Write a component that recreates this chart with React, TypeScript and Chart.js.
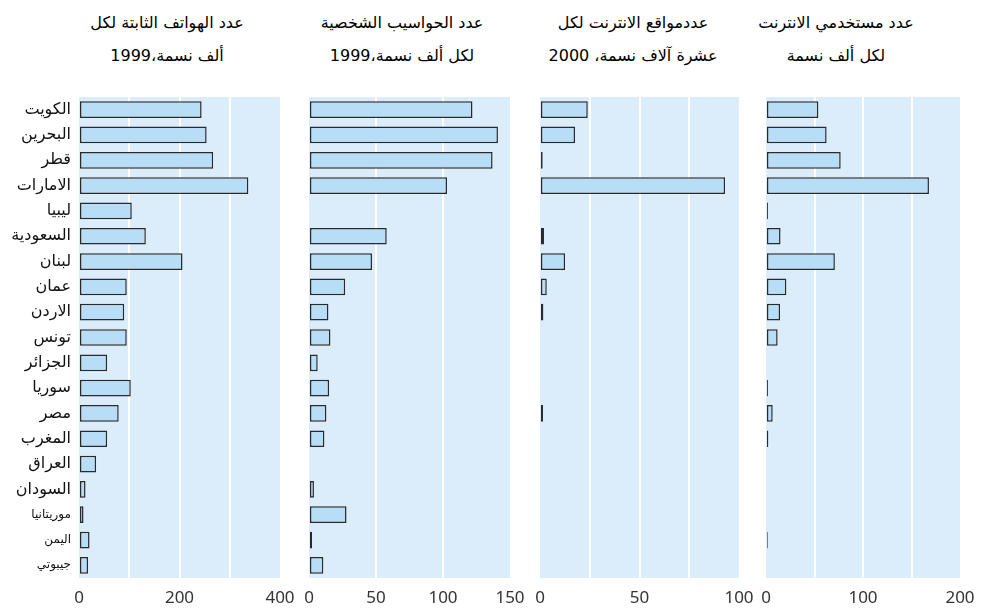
import React, { useEffect, useRef } from 'react';
import { Chart, registerables } from 'chart.js';
Chart.register(...registerables);

const countries = ['الكويت', 'البحرين', 'قطر', 'الامارات', 'ليبيا', 'السعودية', 'لبنان', 'عمان', 'الاردن', 'تونس', 'الجزائر', 'سوريا', 'مصر', 'المغرب', 'العراق', 'السودان', 'موريتانيا', 'اليمن', 'جيبوتي'];

const phones = [244, 254, 267, 337, 105, 133, 206, 95, 90, 95, 56, 103, 79, 56, 34, 13, 9, 21, 18];
const pcs = [122, 141, 137, 103, null, 58, 47, 27, 14.5, 16, 6.5, 15, 13, 11.5, null, 3.7, 28, 2.3, 10.7];
const hosts = [24, 17.6, 1.35, 93, null, 2, 12.6, 3.4, 1.7, null, null, null, 1.5, null, null, null, null, null, null];
const users = [54, 62.5, 77, 168, 2, 15, 71, 21, 14.5, 12, null, 2, 6.9, 2.4, null, null, null, 1.8, null];

const titles = [
  ['عدد الهواتف الثابتة لكل', 'ألف نسمة،1999'],
  ['عدد الحواسيب الشخصية', 'لكل ألف نسمة،1999'],
  ['عددمواقع الانترنت لكل', 'عشرة آلاف نسمة، 2000'],
  ['عدد مستخدمي الانترنت', 'لكل ألف نسمة'],
];

const BG = '#dbedfb';
const BAR = '#b8ddf6';
const EDGE = '#2a2a2a';

const bgPlugin = {
  id: 'panelBg',
  beforeDraw(chart: any) {
    const { ctx, chartArea } = chart;
    ctx.save();
    ctx.fillStyle = BG;
    ctx.fillRect(chartArea.left, chartArea.top, chartArea.right - chartArea.left, chartArea.bottom - chartArea.top);
    ctx.restore();
  },
};

type PanelProps = {
  values: (number | null)[];
  max: number;
  step: number;
  labels: number[];
  left: number;
  width: number;
  padL: number;
  padR: number;
  showY: boolean;
};

function Panel({ values, max, step, labels, left, width, padL, padR, showY }: PanelProps) {
  const ref = useRef<HTMLCanvasElement>(null);
  useEffect(() => {
    if (!ref.current) return;
    const chart = new Chart(ref.current, {
      type: 'bar',
      data: {
        labels: countries,
        datasets: [
          {
            data: values as any,
            backgroundColor: BAR,
            borderColor: EDGE,
            borderWidth: 1.5,
            borderSkipped: false,
            categoryPercentage: 1,
            barPercentage: 0.66,
          },
        ],
      },
      options: {
        indexAxis: 'y',
        animation: false,
        responsive: false,
        layout: { padding: { left: padL, right: padR, top: 7, bottom: 0 } },
        plugins: { legend: { display: false }, tooltip: { enabled: false }, title: { display: false } },
        scales: {
          x: {
            min: 0,
            max: max,
            border: { display: false },
            grid: {
              color: (c: any) => (c.tick && (c.tick.value === 0 || c.tick.value === max) ? 'rgba(0,0,0,0)' : '#ffffff'),
              lineWidth: 2,
              drawTicks: false,
            },
            ticks: {
              stepSize: step,
              padding: 10,
              color: '#333',
              font: { family: 'Noto Sans', size: 17 },
              maxRotation: 0,
              autoSkip: false,
              callback: (v: any) => (labels.includes(Number(v)) ? String(v) : ''),
            },
            afterFit: (s: any) => {
              s.height = 33;
              s.paddingLeft = 0;
              s.paddingRight = 0;
            },
          },
          y: {
            display: showY,
            border: { display: false },
            grid: { display: false, drawTicks: false },
            ticks: {
              padding: 8,
              color: '#111',
              autoSkip: false,
              font: (c: any) => ({ family: 'DejaVu Sans', size: c.index >= 16 ? 12 : 16 }),
            },
            afterFit: (s: any) => {
              if (showY) s.width = 79;
              s.paddingTop = 0;
              s.paddingBottom = 0;
            },
          },
        },
      },
      plugins: [bgPlugin],
    });
    return () => chart.destroy();
  }, []);
  return (
    <canvas
      ref={ref}
      width={width}
      height={521}
      style={{ position: 'absolute', left: left, top: 90, width: width, height: 521 }}
    />
  );
}

function Title({ lines, center }: { lines: string[]; center: number }) {
  return (
    <div
      style={{
        position: 'absolute',
        left: center - 120,
        width: 240,
        top: 6,
        textAlign: 'center',
        direction: 'rtl',
        fontFamily: 'DejaVu Sans',
        fontSize: 16,
        lineHeight: '33px',
        color: '#000',
      }}
    >
      <div>{lines[0]}</div>
      <div>{lines[1]}</div>
    </div>
  );
}

export default function App() {
  return (
    <div style={{ position: 'fixed', left: 0, top: 0, width: 983, height: 611, background: '#fff', overflow: 'hidden' }}>
      <Title lines={titles[0]} center={167} />
      <Title lines={titles[1]} center={402} />
      <Title lines={titles[2]} center={633} />
      <Title lines={titles[3]} center={836} />
      <Panel values={phones} max={400} step={100} labels={[0, 200, 400]} left={0} width={300} padL={0} padR={20} showY={true} />
      <Panel values={pcs} max={150} step={50} labels={[0, 50, 100, 150]} left={290} width={240} padL={19} padR={20} showY={false} />
      <Panel values={hosts} max={100} step={25} labels={[0, 50, 100]} left={520} width={240} padL={20} padR={21} showY={false} />
      <Panel values={users} max={200} step={50} labels={[0, 100, 200]} left={746} width={237} padL={20} padR={23} showY={false} />
    </div>
  );
}
